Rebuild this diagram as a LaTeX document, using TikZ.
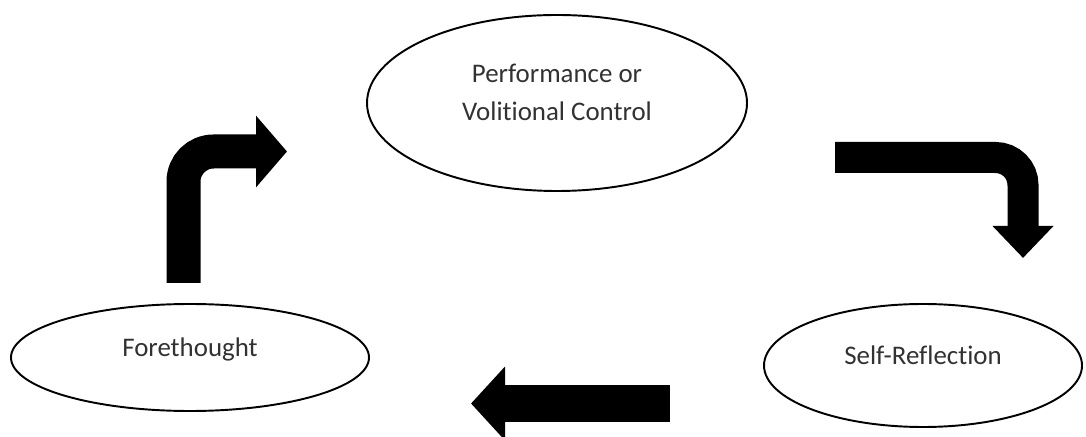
\documentclass[tikz,border=0pt]{standalone}
\usepackage{fontspec}
\setmainfont{Carlito}[Ligatures=NoCommon]
\usetikzlibrary{shapes.geometric,arrows.meta,positioning}
\definecolor{labelgrey}{RGB}{50,50,50}
\tikzset{
  phase/.style={ellipse, draw=black, line width=1.1pt, inner sep=0pt},
  phasetext/.style={font=\fontsize{15.3}{22}\selectfont, text=labelgrey, align=center},
  bentarrow/.style={draw=black, line width=#1, line cap=butt},
}

\begin{document}
\begin{tikzpicture}
    \useasboundingbox (0,0) rectangle (21.72,8.72);
    %, Top: performance ---
    \node[phase, minimum width=7.6cm, minimum height=3.52cm,
          label={[phasetext, yshift=0.21cm]center:Performance or\\Volitional Control}] (perf) at (11.14,6.66) {};
    %, Bottom: forethought and self-reflection ---
    \node[phase, minimum width=7.16cm, minimum height=2.14cm,
          label={[phasetext, yshift=0.17cm]center:Forethought}] (fore) at (3.8,1.57) {};
    \node[phase, minimum width=6.36cm, minimum height=2.46cm,
          label={[phasetext, yshift=0.21cm]center:Self-Reflection}] (refl) at (18.46,1.41) {};

    %, Cycle arrows ---
    \coordinate (fore out) at (3.67,3.06);
    \coordinate (perf in) at (5.74,5.69);
    \coordinate (perf out) at (16.7,5.57);
    \coordinate (refl in) at (20.46,3.56);
    \coordinate (refl out) at (13.4,0.65);
    \coordinate (fore in) at (9.42,0.65);
    \draw[bentarrow=0.68cm, rounded corners=0.6cm, -{Triangle[length=0.62cm,width=1.4cm]}] (fore out) |- (perf in);
    \draw[bentarrow=0.62cm, rounded corners=0.55cm, -{Triangle[length=0.64cm,width=1.18cm]}] (perf out) -| (refl in);
    \draw[bentarrow=0.74cm, -{Triangle[length=0.68cm,width=1.44cm]}] (refl out) -- (fore in);
\end{tikzpicture}
\end{document}
